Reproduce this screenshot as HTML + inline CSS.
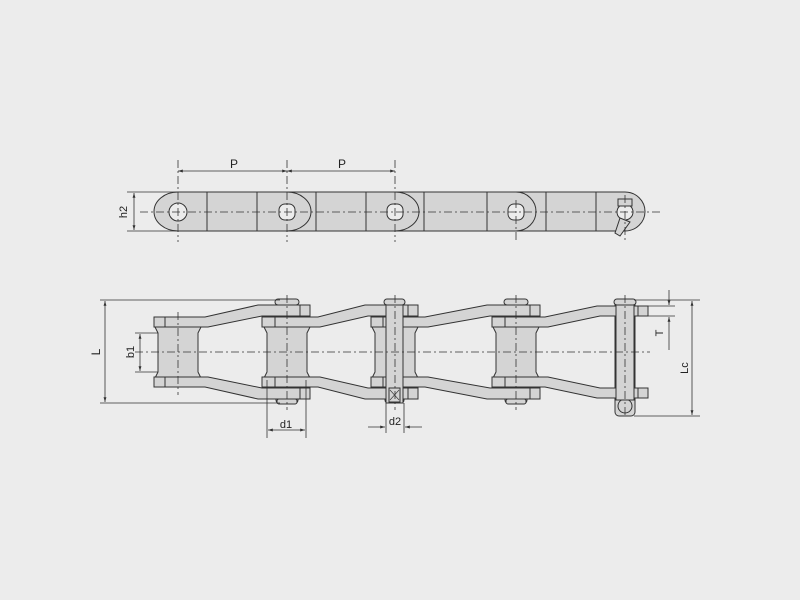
<!DOCTYPE html>
<html><head><style>html,body{margin:0;padding:0;background:#ececec}svg{display:block}</style></head><body>
<svg width="800" height="600" viewBox="0 0 800 600" xmlns="http://www.w3.org/2000/svg" font-family="Liberation Sans, sans-serif">
<rect width="800" height="600" fill="#ececec"/>
<defs>
<marker id="a" viewBox="0 0 10 10" refX="10" refY="5" markerWidth="8" markerHeight="6" orient="auto-start-reverse"><path d="M0,2 L10,5 L0,8 z" fill="#333"/></marker>
</defs>
<g stroke="#333" stroke-width="1" fill="#d4d4d4">
<!-- top view -->
<path d="M178,192 L625,192 A20,19.5 0 0 1 625,231 L178,231 A24,19.5 0 0 1 178,192 Z"/>
<g fill="none">
<line x1="207" y1="192" x2="207" y2="231"/><line x1="257" y1="192" x2="257" y2="231"/>
<line x1="316" y1="192" x2="316" y2="231"/><line x1="366" y1="192" x2="366" y2="231"/>
<line x1="424" y1="192" x2="424" y2="231"/><line x1="487" y1="192" x2="487" y2="231"/>
<line x1="546" y1="192" x2="546" y2="231"/><line x1="596" y1="192" x2="596" y2="231"/>
<path d="M287,192 A24,19.5 0 0 1 287,231"/><path d="M395,192 A24,19.5 0 0 1 395,231"/><path d="M516,192 A20,19.5 0 0 1 516,231"/>
</g>
<circle cx="178" cy="212" r="9" fill="#ececec"/>
<rect x="279" y="204" width="16" height="16" rx="6" fill="#ececec"/>
<rect x="387" y="204" width="16" height="16" rx="6" fill="#ececec"/>
<rect x="508" y="204" width="16" height="16" rx="6" fill="#ececec"/>
<circle cx="625" cy="212" r="8" fill="#ececec"/>
<rect x="618" y="199" width="14" height="7"/>
<path d="M620,218 L630,222 L620,236 L615,233 Z"/>
</g>
<g stroke="#333" stroke-width="0.8" stroke-dasharray="8,3,2,3" fill="none">
<line x1="140" y1="212" x2="662" y2="212"/>
<line x1="178" y1="160" x2="178" y2="242"/><line x1="287" y1="160" x2="287" y2="242"/>
<line x1="395" y1="160" x2="395" y2="242"/><line x1="516" y1="200" x2="516" y2="242"/><line x1="625" y1="195" x2="625" y2="242"/>
</g>
<g stroke="#333" stroke-width="0.8" fill="none">
<line x1="178" y1="171" x2="287" y2="171" marker-start="url(#a)" marker-end="url(#a)"/>
<line x1="287" y1="171" x2="395" y2="171" marker-start="url(#a)" marker-end="url(#a)"/>
<line x1="127" y1="192" x2="178" y2="192"/><line x1="127" y1="231" x2="178" y2="231"/>
<line x1="134" y1="193" x2="134" y2="230" marker-start="url(#a)" marker-end="url(#a)"/>
</g>
<text x="234" y="168" font-size="12" fill="#222" text-anchor="middle">P</text>
<text x="342" y="168" font-size="12" fill="#222" text-anchor="middle">P</text>
<text x="127" y="212" font-size="11" fill="#222" text-anchor="middle" transform="rotate(-90 127 212)">h2</text>

<!-- bottom view -->
<g stroke="#333" stroke-width="1" fill="#d4d4d4">
<!-- pins (behind) -->
<rect x="276" y="299" width="22" height="105" rx="4"/>
<rect x="385" y="299" width="19" height="104" rx="3"/>
<rect x="505" y="299" width="22" height="105" rx="4"/>
<rect x="615" y="299" width="20" height="117" rx="4"/>
<circle cx="625" cy="406" r="7"/>
<!-- rollers -->
<g id="r">
<path d="M155,327 L201,327 L198,333 L198,372 L201,378 L155,378 L158,372 L158,333 Z"/>
</g>
<use href="#r" x="109"/><use href="#r" x="217"/><use href="#r" x="338"/>
<!-- plates top -->
<g id="pl">
<path d="M154,317 L205,317 L258,305 L310,305 L310,316 L262,316 L208,327 L154,327 Z"/>
<path d="M262,317 L318,317 L365,305 L418,305 L418,316 L368,316 L320,327 L262,327 Z"/>
<path d="M371,317 L425,317 L487,305 L540,305 L540,316 L490,316 L428,327 L371,327 Z"/>
<path d="M492,317 L545,317 L597,306 L648,306 L648,316 L600,316 L548,327 L492,327 Z"/>
<g fill="none"><line x1="165" y1="317" x2="165" y2="327"/><line x1="275" y1="317" x2="275" y2="327"/><line x1="300" y1="305" x2="300" y2="316"/><line x1="408" y1="305" x2="408" y2="316"/><line x1="530" y1="305" x2="530" y2="316"/><line x1="638" y1="306" x2="638" y2="316"/><line x1="505" y1="317" x2="505" y2="327"/><line x1="383" y1="317" x2="383" y2="327"/></g>
</g>
<use href="#pl" transform="translate(0,704) scale(1,-1)"/>
<!-- pin centers over plates -->
<rect x="386" y="300" width="17" height="103" fill="#d4d4d4"/>
<rect x="616" y="300" width="18" height="100" fill="#d4d4d4"/>
<rect x="389" y="388" width="11" height="14" fill="none"/>
<path d="M390,390 L399,400 M399,390 L390,400" fill="none" stroke-width="0.6"/>
<rect x="275" y="299" width="24" height="6" rx="3"/>
<rect x="504" y="299" width="24" height="6" rx="3"/>
<rect x="384" y="299" width="21" height="6" rx="3"/>
<rect x="614" y="299" width="22" height="6" rx="3"/>
<rect x="277" y="399" width="20" height="5" rx="2"/>
<rect x="506" y="399" width="20" height="5" rx="2"/>
</g>
<g stroke="#333" stroke-width="0.8" stroke-dasharray="8,3,2,3" fill="none">
<line x1="135" y1="352" x2="650" y2="352"/>
<line x1="178" y1="312" x2="178" y2="395"/><line x1="287" y1="295" x2="287" y2="410"/>
<line x1="395" y1="295" x2="395" y2="410"/><line x1="516" y1="295" x2="516" y2="410"/><line x1="625" y1="295" x2="625" y2="418"/>
</g>
<g stroke="#333" stroke-width="0.8" fill="none">
<line x1="100" y1="300" x2="280" y2="300"/><line x1="100" y1="403" x2="280" y2="403"/>
<line x1="105" y1="301" x2="105" y2="402" marker-start="url(#a)" marker-end="url(#a)"/>
<line x1="135" y1="333" x2="158" y2="333"/><line x1="135" y1="372" x2="158" y2="372"/>
<line x1="140" y1="334" x2="140" y2="371" marker-start="url(#a)" marker-end="url(#a)"/>
<line x1="267" y1="380" x2="267" y2="438"/><line x1="306" y1="380" x2="306" y2="438"/>
<line x1="268" y1="430" x2="305" y2="430" marker-start="url(#a)" marker-end="url(#a)"/>
<line x1="386" y1="403" x2="386" y2="433"/><line x1="404" y1="403" x2="404" y2="433"/>
<line x1="368" y1="427" x2="385" y2="427" marker-end="url(#a)"/>
<line x1="422" y1="427" x2="405" y2="427" marker-end="url(#a)"/>
<line x1="634" y1="300" x2="700" y2="300"/><line x1="648" y1="306" x2="675" y2="306"/><line x1="648" y1="316" x2="675" y2="316"/>
<line x1="634" y1="416" x2="700" y2="416"/>
<line x1="669" y1="290" x2="669" y2="305" marker-end="url(#a)"/>
<line x1="669" y1="350" x2="669" y2="317" marker-end="url(#a)"/>
<line x1="692" y1="301" x2="692" y2="415" marker-start="url(#a)" marker-end="url(#a)"/>
</g>
<text x="100" y="352" font-size="12" fill="#222" text-anchor="middle" transform="rotate(-90 100 352)">L</text>
<text x="134" y="352" font-size="11" fill="#222" text-anchor="middle" transform="rotate(-90 134 352)">b1</text>
<text x="286" y="428" font-size="11" fill="#222" text-anchor="middle">d1</text>
<text x="395" y="425" font-size="11" fill="#222" text-anchor="middle">d2</text>
<text x="663" y="333" font-size="11" fill="#222" text-anchor="middle" transform="rotate(-90 663 333)">T</text>
<text x="688" y="368" font-size="11" fill="#222" text-anchor="middle" transform="rotate(-90 688 368)">Lc</text>
</svg>
</body></html>
